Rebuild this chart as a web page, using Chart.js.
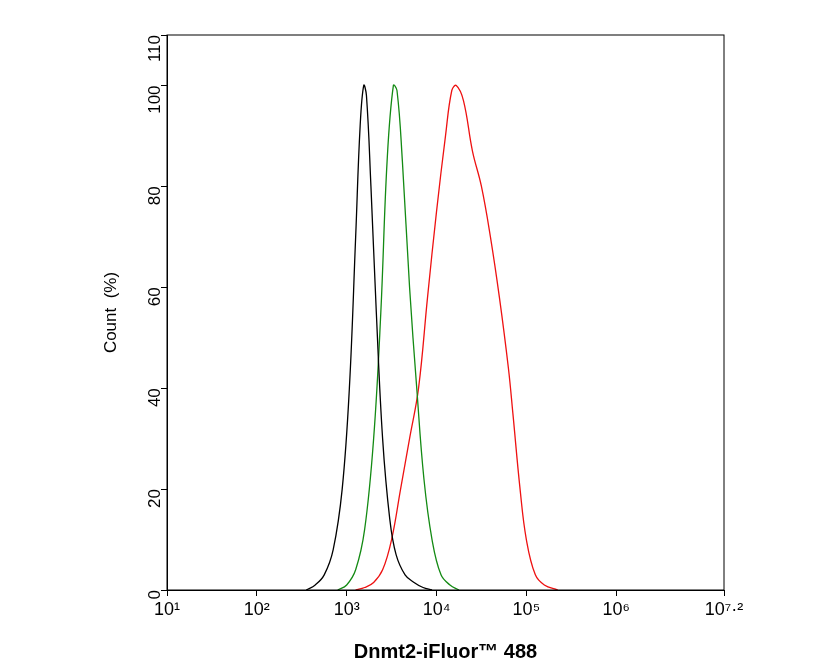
<!DOCTYPE html>
<html><head><meta charset="utf-8">
<script src="https://cdn.jsdelivr.net/npm/chart.js@4/dist/chart.umd.min.js"></script>
<style>body{margin:0;background:#fff}#c{display:block}</style>
</head><body>
<div style="width:835px;height:668px"><canvas id="c"></canvas></div>
<script>
// log10 intensity / count (%)
const blackX = [2.55, 2.65, 2.75, 2.85, 2.95, 3.03, 3.10, 3.15, 3.19, 3.22, 3.27, 3.33, 3.40, 3.48, 3.55, 3.65, 3.75, 3.85, 3.95];
const blackY = [0, 1, 3, 8, 20, 40, 70, 92, 100, 98, 80, 55, 30, 14, 7, 3, 1.5, 0.5, 0];
const greenX = [2.9, 3.0, 3.1, 3.2, 3.3, 3.38, 3.45, 3.52, 3.56, 3.62, 3.70, 3.78, 3.86, 3.95, 4.05, 4.15, 4.25];
const greenY = [0, 1, 4, 12, 30, 55, 85, 100, 99, 85, 60, 40, 22, 10, 3, 1, 0];
const redX = [3.1, 3.2, 3.3, 3.4, 3.5, 3.6, 3.7, 3.8, 3.9, 4.0, 4.1, 4.17, 4.22, 4.3, 4.4, 4.5, 4.6, 4.7, 4.8, 4.85, 4.93, 5.0, 5.1, 5.2, 5.35];
const redY = [0, 0.5, 1.5, 4, 10, 20, 30, 40, 58, 75, 90, 99, 100, 97, 87, 80, 70, 58, 44, 35, 20, 10, 3, 1, 0];
const xTicks = [1, 2, 3, 4, 5, 6, 7.2];
const yTicks = [0, 20, 40, 60, 80, 100, 110];

const sup = {'0':'⁰','1':'¹','2':'²','3':'³','4':'⁴','5':'⁵','6':'⁶','7':'⁷','.':'·'};
const toPts = (xs, ys) => xs.map((x, i) => ({x: x, y: ys[i]}));
const line = (xs, ys, c) => ({data: toPts(xs, ys), borderColor: c, borderWidth: 1.3, pointRadius: 0, tension: 0.4, fill: false});

const box = {
    id: 'box',
    afterDraw(chart) {
        const a = chart.chartArea, g = chart.ctx;
        g.save(); g.strokeStyle = '#000'; g.lineWidth = 1;
        g.strokeRect(a.left, a.top, a.right - a.left, a.bottom - a.top);
        g.restore();
    }
};

new Chart(document.getElementById('c'), {
    type: 'line',
    data: {datasets: [line(blackX, blackY, '#000'), line(greenX, greenY, '#138a13'), line(redX, redY, '#ee1111')]},
    options: {
        responsive: true, maintainAspectRatio: false, animation: false,
        layout: {padding: {top: 35, right: 111, left: 97, bottom: 0}},
        plugins: {legend: {display: false}, tooltip: {enabled: false}},
        scales: {
            x: {
                type: 'linear', min: 1, max: 7.2,
                afterBuildTicks: s => { s.ticks = xTicks.map(v => ({value: v})); },
                afterFit: s => { s.height = 78; },
                grid: {drawOnChartArea: false, color: '#000', tickLength: 6},
                border: {color: '#000'},
                ticks: {color: '#000', font: {family: 'Liberation Sans', size: 18}, maxRotation: 0,
                    callback: v => '10' + String(v).split('').map(ch => sup[ch]).join('')},
                title: {display: true, text: 'Dnmt2-iFluor™ 488', color: '#000', font: {family: 'Liberation Sans', size: 20, weight: 'bold'}, padding: {top: 2}}
            },
            y: {
                min: 0, max: 110,
                afterBuildTicks: s => { s.ticks = yTicks.map(v => ({value: v})); },
                afterFit: s => { s.width = 70; },
                grid: {drawOnChartArea: false, color: '#000', tickLength: 6},
                border: {color: '#000'},
                ticks: {color: '#000', font: {family: 'Liberation Sans', size: 17}, padding: 6, minRotation: 90, maxRotation: 90},
                title: {display: true, text: 'Count  (%)', color: '#000', font: {family: 'Liberation Sans', size: 17}}
            }
        }
    },
    plugins: [box]
});
</script>
</body></html>
